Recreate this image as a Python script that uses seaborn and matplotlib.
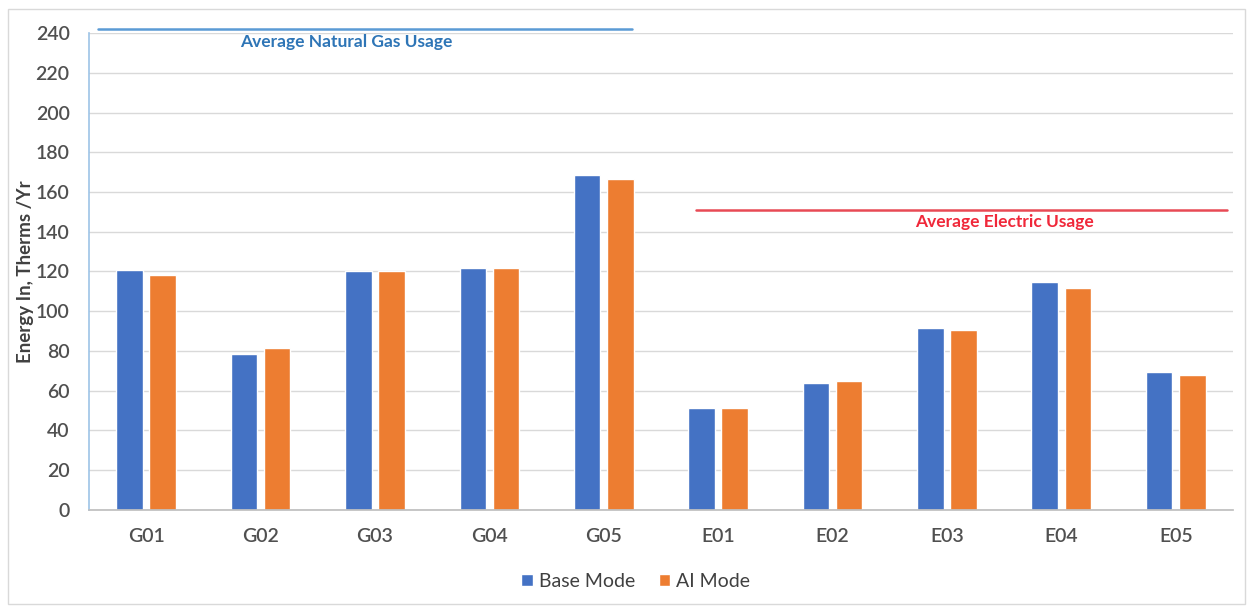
import numpy as np
import pandas as pd
import matplotlib
matplotlib.use("Agg")
import matplotlib.pyplot as plt
from matplotlib.patches import Rectangle
import seaborn as sns

# Annual energy use per site, base controller vs AI controller
sites = ["G01", "G02", "G03", "G04", "G05", "E01", "E02", "E03", "E04", "E05"]
base_mode = [121, 78.5, 120, 122, 168.5, 51.5, 64, 91.5, 114.5, 69.5]
ai_mode = [118, 81.5, 120, 122, 166.5, 51.5, 65, 90.5, 111.5, 68]
series_names = ["Base Mode", "AI Mode"]
y_ticks = list(range(0, 241, 20))

gas_avg = 242
elec_avg = 151

df = pd.DataFrame({
    "Site": sites * 2,
    "Energy": base_mode + ai_mode,
    "Mode": [series_names[0]] * len(sites) + [series_names[1]] * len(sites),
})

sns.set_theme(style="white")
plt.rcParams["font.family"] = ["Lato", "DejaVu Sans"]

fig = plt.figure(figsize=(12.53, 6.09), dpi=100)
ax = fig.add_axes([0.071, 0.1626, 0.913, 0.7832])

sns.barplot(data=df, x="Site", y="Energy", hue="Mode", order=sites,
            hue_order=series_names, palette=["#4472C4", "#ED7D31"],
            width=0.58, gap=0.2, ax=ax, saturation=1, errorbar=None)

ax.set_ylim(0, 240)
ax.set_xlim(-0.5, len(sites) - 0.5)
ax.set_yticks(y_ticks)
ax.yaxis.grid(True, color="#d9d9d9", linewidth=1)
ax.set_axisbelow(True)
ax.tick_params(axis="both", length=0, labelsize=14, labelcolor="#505050")
ax.tick_params(axis="y", pad=14)
ax.tick_params(axis="x", pad=13)
for lbl in ax.get_xticklabels() + ax.get_yticklabels():
    lbl.set_fontweight("semibold")
for s in ["top", "right"]:
    ax.spines[s].set_visible(False)
ax.spines["bottom"].set_color("#bfbfbf")
ax.spines["left"].set_color("#9dc3e6")
ax.spines["left"].set_linewidth(1.2)

ax.set_xlabel("")
ax.set_ylabel("Energy In, Therms /Yr", fontsize=13.5, fontweight="bold",
              color="#404040", labelpad=1)

# Reference lines for average usage
ax.plot([-0.42, 4.25], [gas_avg, gas_avg], color="#5B9BD5", lw=1.8, clip_on=False)
ax.text(1.75, gas_avg - 2.3, "Average Natural Gas Usage", color="#2E75B6",
        fontsize=12.5, fontweight="bold", ha="center", va="top")
ax.plot([4.81, 9.45], [elec_avg, elec_avg], color="#E84A55", lw=1.8)
ax.text(7.5, elec_avg - 2.3, "Average Electric Usage", color="#F0283A",
        fontsize=12.5, fontweight="bold", ha="center", va="top")

leg = ax.legend(loc="upper center", bbox_to_anchor=(0.478, -0.095), ncol=2,
                frameon=False, fontsize=14, handlelength=0.6, handleheight=0.6,
                handletextpad=0.3, columnspacing=1.2)
for t in leg.get_texts():
    t.set_color("#404040")

fig.patches.append(Rectangle((0.006, 0.008), 0.988, 0.978, transform=fig.transFigure,
                             fill=False, edgecolor="#d9d9d9", linewidth=1))

fig.savefig("out.png", dpi=100)
